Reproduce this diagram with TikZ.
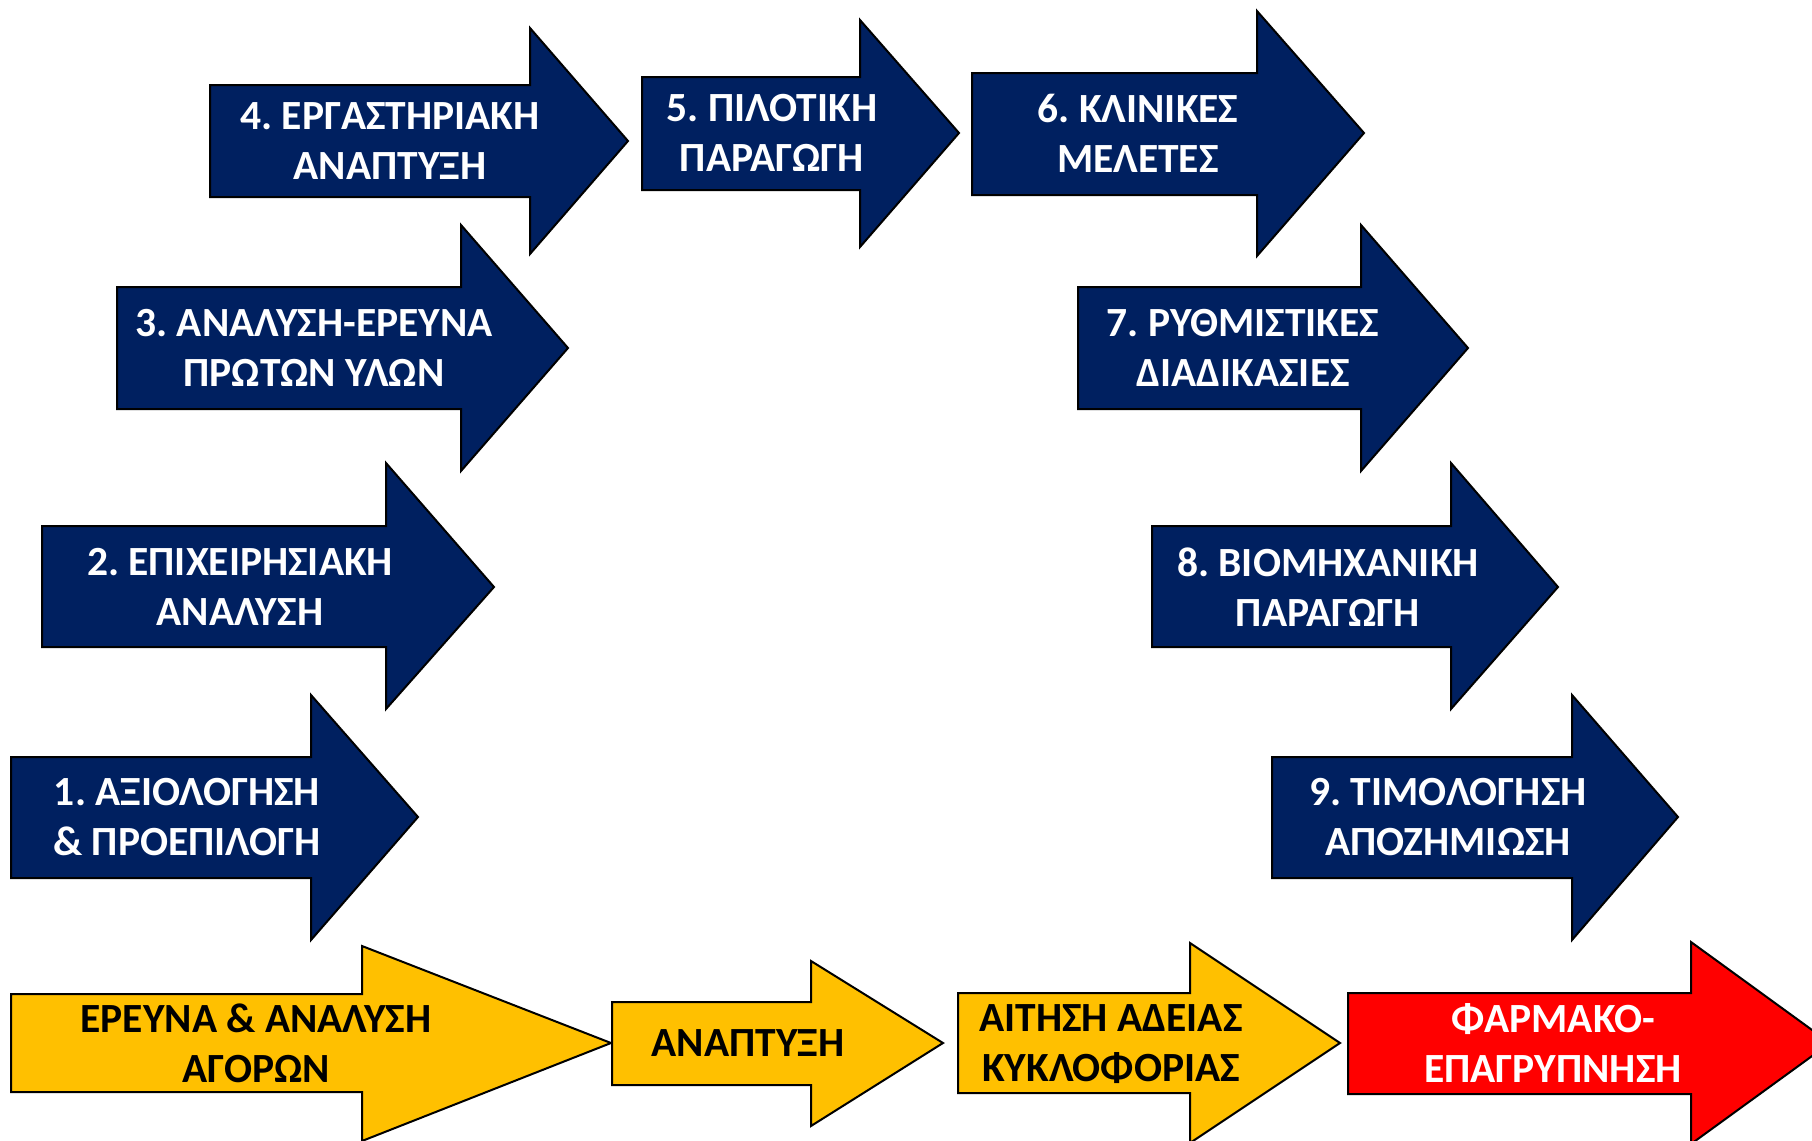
\documentclass[tikz,border=0pt]{standalone}
\usepackage{fontspec}
\setmainfont{Carlito}
\frenchspacing
\definecolor{stagenavy}{HTML}{002060}
\definecolor{stageyellow}{HTML}{FFC000}
\definecolor{stagered}{HTML}{FF0000}

\begin{document}
\begin{tikzpicture}[x=0.5pt, y=-0.5pt,
  navyarrow/.style={draw=black, line width=1pt, fill=stagenavy, line join=miter},
  yellowarrow/.style={draw=black, line width=1pt, fill=stageyellow, line join=miter},
  redarrow/.style={draw=black, line width=1pt, fill=stagered, line join=miter},
  stagetext/.style={align=center, inner sep=0pt, text depth=0pt, font=\fontsize{20.75pt}{25pt}\selectfont\bfseries},
  whitetext/.style={stagetext, text=white},
  blacktext/.style={stagetext, text=black}]
\useasboundingbox (0,0) rectangle (1812,1141);
\clip (0,0) rectangle (1812,1141);
% left column, going up
\draw[navyarrow] (11,757) -- (311,757) -- (311,695) -- (418,817) -- (311,940) -- (311,878) -- (11,878) -- cycle;
\node[whitetext] (s1) at (187,817) {1. ΑΞΙΟΛΟΓΗΣΗ\\\& ΠΡΟΕΠΙΛΟΓΗ};
\draw[navyarrow] (42,526) -- (386,526) -- (386,463) -- (494,587) -- (386,709) -- (386,647) -- (42,647) -- cycle;
\node[whitetext] (s2) at (240,587) {2. ΕΠΙΧΕΙΡΗΣΙΑΚΗ\\ΑΝΑΛΥΣΗ};
\draw[navyarrow] (117,287) -- (461,287) -- (461,225) -- (568,348) -- (461,471) -- (461,409) -- (117,409) -- cycle;
\node[whitetext] (s3) at (314,348) {3. ΑΝΑΛΥΣΗ-ΕΡΕΥΝΑ\\ΠΡΩΤΩΝ ΥΛΩΝ};
% top row
\draw[navyarrow] (210,85) -- (530,85) -- (530,28) -- (628,141) -- (530,254) -- (530,197) -- (210,197) -- cycle;
\node[whitetext] (s4) at (390,141) {4. ΕΡΓΑΣΤΗΡΙΑΚΗ\\ΑΝΑΠΤΥΞΗ};
\draw[navyarrow] (642,77) -- (860,77) -- (860,20) -- (959,133) -- (860,247) -- (860,190) -- (642,190) -- cycle;
\node[whitetext] (s5) at (772,133) {5. ΠΙΛΟΤΙΚΗ\\ΠΑΡΑΓΩΓΗ};
\draw[navyarrow] (972,73) -- (1257,73) -- (1257,11) -- (1364,133) -- (1257,256) -- (1257,195) -- (972,195) -- cycle;
\node[whitetext] (s6) at (1138,133) {6. ΚΛΙΝΙΚΕΣ\\ΜΕΛΕΤΕΣ};
% right column, going down
\draw[navyarrow] (1078,287) -- (1361,287) -- (1361,225) -- (1468,348) -- (1361,471) -- (1361,409) -- (1078,409) -- cycle;
\node[whitetext] (s7) at (1243,348) {7. ΡΥΘΜΙΣΤΙΚΕΣ\\ΔΙΑΔΙΚΑΣΙΕΣ};
\draw[navyarrow] (1152,526) -- (1451,526) -- (1451,463) -- (1558,587) -- (1451,709) -- (1451,647) -- (1152,647) -- cycle;
\node[whitetext] (s8) at (1328,587) {8. ΒΙΟΜΗΧΑΝΙΚΗ\\ΠΑΡΑΓΩΓΗ};
\draw[navyarrow] (1272,757) -- (1572,757) -- (1572,695) -- (1678,817) -- (1572,940) -- (1572,878) -- (1272,878) -- cycle;
\node[whitetext] (s9) at (1448,817) {9. ΤΙΜΟΛΟΓΗΣΗ\\ΑΠΟΖΗΜΙΩΣΗ};
% bottom row
\draw[yellowarrow] (11,994) -- (362,994) -- (362,946) -- (611,1043) -- (362,1141) -- (362,1092) -- (11,1092) -- cycle;
\node[blacktext] (p1) at (256,1043) {ΕΡΕΥΝΑ \& ΑΝΑΛΥΣΗ\\ΑΓΟΡΩΝ};
\draw[yellowarrow] (612,1002) -- (811,1002) -- (811,961) -- (943,1043) -- (811,1126) -- (811,1085) -- (612,1085) -- cycle;
\node[blacktext] (p2) at (748,1043) {ΑΝΑΠΤΥΞΗ};
\draw[yellowarrow] (958,993) -- (1190,993) -- (1190,943) -- (1340,1043) -- (1190,1143) -- (1190,1093) -- (958,1093) -- cycle;
\node[blacktext] (p3) at (1111,1043) {ΑΙΤΗΣΗ ΑΔΕΙΑΣ\\ΚΥΚΛΟΦΟΡΙΑΣ};
\draw[redarrow] (1348,993) -- (1691,993) -- (1691,942) -- (1830,1043) -- (1691,1144) -- (1691,1094) -- (1348,1094) -- cycle;
\node[whitetext] (p4) at (1553,1043) {ΦΑΡΜΑΚΟ-\\ΕΠΑΓΡΥΠΝΗΣΗ};
\end{tikzpicture}
\end{document}
